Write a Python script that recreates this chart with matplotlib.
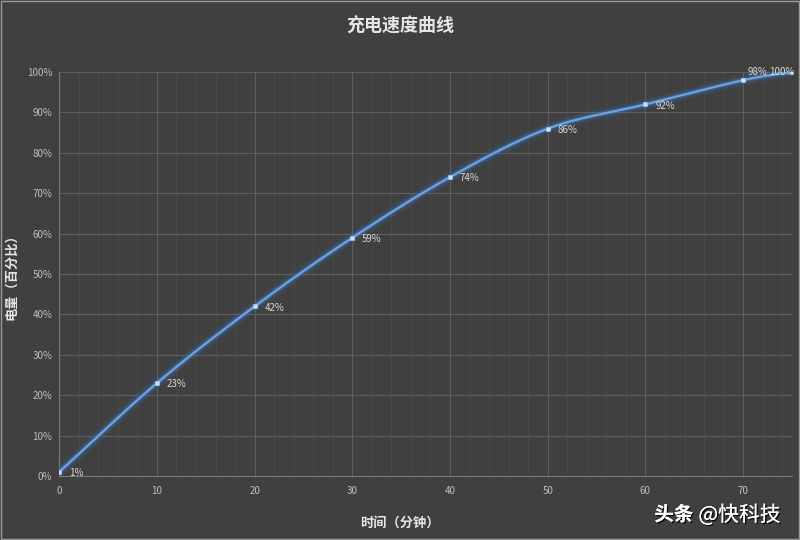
import numpy as np
import matplotlib
matplotlib.use("Agg")
import matplotlib.pyplot as plt
import matplotlib.patheffects as pe
from matplotlib.ticker import MultipleLocator, FuncFormatter

plt.rcParams['font.family'] = ['Noto Sans CJK SC', 'DejaVu Sans']

# data
minutes = [0, 10, 20, 30, 40, 50, 60, 70, 75]
battery = [1, 23, 42, 59, 74, 86, 92, 98, 100]
point_labels = ["1%", "23%", "42%", "59%", "74%", "86%", "92%", "98%", "100%"]

BG = "#404040"
LINE = "#6fa3df"
GLOW = "#3a6fb0"
TXT = "#d9d9d9"


def smooth(x, y, n=30):
    # Catmull-Rom style smoothing, like Excel's "smoothed line"
    x = np.asarray(x, float)
    y = np.asarray(y, float)
    px = np.concatenate([[2 * x[0] - x[1]], x, [2 * x[-1] - x[-2]]])
    py = np.concatenate([[2 * y[0] - y[1]], y, [2 * y[-1] - y[-2]]])
    xs, ys = [], []
    t = np.linspace(0, 1, n)
    for i in range(1, len(px) - 2):
        p0, p1, p2, p3 = [np.array([px[j], py[j]]) for j in range(i - 1, i + 3)]
        c1 = p1 + (p2 - p0) / 6
        c2 = p2 - (p3 - p1) / 6
        b = ((1 - t) ** 3)[:, None] * p1 + (3 * (1 - t) ** 2 * t)[:, None] * c1 \
            + (3 * (1 - t) * t ** 2)[:, None] * c2 + (t ** 3)[:, None] * p2
        xs.append(b[:, 0])
        ys.append(b[:, 1])
    return np.concatenate(xs), np.concatenate(ys)


fig = plt.figure(figsize=(8, 5.4), dpi=100, facecolor=BG)
ax = fig.add_axes([0.074, 0.1185, 0.916, 0.748])
ax.set_facecolor(BG)

sx, sy = smooth(minutes, battery)
# glow
for w, a in [(8, 0.12), (5, 0.25), (3.2, 0.45)]:
    ax.plot(sx, sy, color=GLOW, lw=w, alpha=a, solid_capstyle="round", zorder=3)
ax.plot(sx, sy, color=LINE, lw=1.6, zorder=4)
ax.plot(minutes, battery, "s", ms=3, color="#cfe3fa", mec="#9cc4ee", mew=0.5, zorder=5)

for x, y, s in zip(minutes, battery, point_labels):
    if x == 70:
        ax.annotate(s, (x, y), xytext=(3, 2), textcoords="offset points",
                    color=TXT, fontsize=7, va="bottom", ha="left", zorder=6)
    elif x == 75:
        ax.annotate(s, (x, y), xytext=(2, 0), textcoords="offset points",
                    color=TXT, fontsize=7, va="center", ha="right", zorder=6)
    else:
        ax.annotate(s, (x, y), xytext=(7, -1), textcoords="offset points",
                    color=TXT, fontsize=7, va="center", ha="left", zorder=6)

ax.set_xlim(0, 75)
ax.set_ylim(0, 100)
ax.xaxis.set_major_locator(MultipleLocator(10))
ax.xaxis.set_minor_locator(MultipleLocator(2))
ax.yaxis.set_major_locator(MultipleLocator(10))
ax.yaxis.set_major_formatter(FuncFormatter(lambda v, p: f"{int(v)}%"))

ax.grid(which="major", color="#5e5e5e", lw=0.8)
ax.grid(which="minor", axis="x", color="#4a4a4a", lw=0.6)
ax.set_axisbelow(True)

for sp in ["top", "right"]:
    ax.spines[sp].set_visible(False)
ax.spines["left"].set_color("#7a7a7a")
ax.spines["bottom"].set_color("#7a7a7a")
ax.tick_params(which="both", length=0, colors="#bfbfbf", labelsize=7)
ax.tick_params(axis="x", pad=7)
ax.tick_params(axis="y", pad=5)

ax.set_xlabel("时间（分钟）", color="#e6e6e6", fontsize=9.5, fontweight="bold")
ax.set_ylabel("电量（百分比）", color="#e6e6e6", fontsize=9.5, fontweight="bold")
ax.xaxis.set_label_coords(0.465, -0.099)
ax.yaxis.set_label_coords(-0.056, 0.5)

fig.text(0.5, 0.952, "充电速度曲线", ha="center", va="center", color="#e6e6e6",
         fontsize=13, fontweight="bold")

shadow = [pe.withSimplePatchShadow(offset=(1, -1), shadow_rgbFace="black", alpha=0.8),
          pe.Normal()]
wm1 = fig.text(0.818, 0.046, "头条", ha="left", va="center", color="white",
               fontsize=14, fontweight="bold")
wm2 = fig.text(0.873, 0.046, "@快科技", ha="left", va="center", color="white",
               fontsize=15)
wm1.set_path_effects(shadow)
wm2.set_path_effects(shadow)

# thin light frame around the image
fig.patches.append(plt.Rectangle((0.001, 0.001), 0.998, 0.998, transform=fig.transFigure,
                                 fill=False, ec="#9a9a9a", lw=1))

fig.savefig("out.png", dpi=100, facecolor=BG)
